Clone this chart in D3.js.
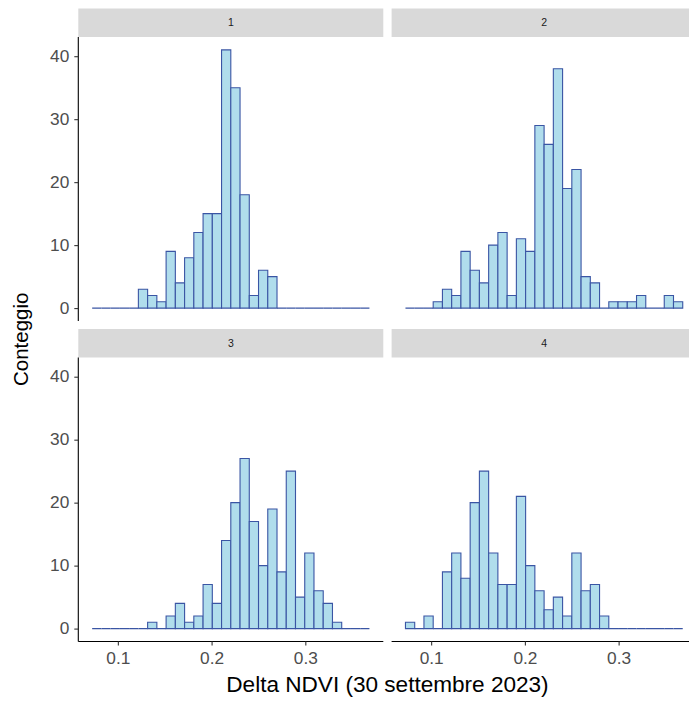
<!DOCTYPE html>
<html>
<head>
<meta charset="utf-8">
<script src="https://cdn.jsdelivr.net/npm/d3@7"></script>
<style>
  html, body { margin: 0; padding: 0; background: #fff; }
  svg { display: block; font-family: "Liberation Sans", Arial, sans-serif; }
</style>
</head>
<body>
<svg id="chart" width="689" height="702"></svg>
<script>
// Histogram of Delta NDVI per zone: 30 shared bins, counts per bin.
const panels = ["1", "2", "3", "4"];
const binStart = 0.0726;
const binWidth = 0.00986;
const binCount = 30;

const counts1 = [0,0,0,0,0,3,2,1,9,4,8,12,15,15,41,35,18,2,6,5,0,0,0,0,0,0,0,0,0,0];
const counts2 = [0,0,0,1,3,2,9,6,4,10,12,2,11,9,29,26,38,19,22,5,4,0,1,1,1,2,0,0,2,1];
const counts3 = [0,0,0,0,0,0,1,0,2,4,1,2,7,4,14,20,27,17,10,19,9,25,5,12,6,4,1,0,0,0];
const counts4 = [1,0,2,0,9,12,8,20,25,12,7,7,21,10,6,3,5,2,12,6,7,2,0,0,0,0,0,0,0,0];
const panelCounts = [counts1, counts2, counts3, counts4];

const xTicks = [0.1, 0.2, 0.3];
const yTicks = [0, 10, 20, 30, 40];
const xTitle = "Delta NDVI (30 settembre 2023)";
const yTitle = "Conteggio";

const svg = d3.select("#chart");

// facet geometry
const colX = [78.3, 391.6];
const panelW = 305;
const rowY = [37, 357.5];
const panelH = 284;
const stripH = 28.5;

const xMin = binStart, xMax = binStart + binWidth * binCount;
const xPad = (xMax - xMin) * 0.05;
const yMaxData = d3.max(panelCounts.flat());
const yPad = yMaxData * 0.05;

const x = d3.scaleLinear().domain([xMin - xPad, xMax + xPad]).range([0, panelW]);
const y = d3.scaleLinear().domain([-yPad, yMaxData + yPad]).range([panelH, 0]);

const fillCol = "#B0DDEC";
const strokeCol = "#3A55A4";
const sx = 1.08; // horizontal widening of tick labels

function styleTickText(sel) {
  sel.attr("font-size", 16).attr("fill", "#4D4D4D")
    .attr("font-family", "'Liberation Sans', Arial, sans-serif")
    .attr("x", function () { return (+this.getAttribute("x") || 0) / sx; })
    .attr("transform", `scale(${sx},1)`);
}

panels.forEach((label, i) => {
  const col = i % 2, row = Math.floor(i / 2);
  const g = svg.append("g").attr("transform", `translate(${colX[col]},${rowY[row]})`);

  // strip
  g.append("rect").attr("x", 0).attr("y", -stripH).attr("width", panelW).attr("height", stripH)
    .attr("fill", "#D9D9D9");
  g.append("text").attr("x", panelW / 2).attr("y", -stripH / 2).attr("dy", "0.35em")
    .attr("text-anchor", "middle").attr("font-size", 10.5).attr("fill", "#1A1A1A").text(label);

  // bars, zero bins collapse to a baseline segment
  const bins = panelCounts[i].map((c, k) => ({
    x0: binStart + k * binWidth, x1: binStart + (k + 1) * binWidth, n: c
  }));
  g.append("g").selectAll("path").data(bins).join("path")
    .attr("d", b => `M${x(b.x0)},${y(0)}V${y(b.n)}H${x(b.x1)}V${y(0)}Z`)
    .attr("fill", fillCol).attr("stroke", strokeCol).attr("stroke-width", 1.1)
    .attr("stroke-linejoin", "miter");

  // y axis on left column
  if (col === 0) {
    const ay = g.append("g").call(d3.axisLeft(y).tickValues(yTicks).tickSize(4).tickPadding(5));
    ay.select(".domain").attr("d", `M0,0V${panelH}`).attr("stroke", "#000").attr("stroke-width", 1.1);
    ay.selectAll(".tick line").attr("stroke", "#333").attr("stroke-width", 1.1);
    ay.selectAll(".tick text").call(styleTickText);
  }
  // x axis on bottom row
  if (row === 1) {
    const ax = g.append("g").attr("transform", `translate(0,${panelH})`)
      .call(d3.axisBottom(x).tickValues(xTicks).tickFormat(d3.format(".1f")).tickSize(4).tickPadding(7));
    ax.select(".domain").attr("d", `M0,0H${panelW}`).attr("stroke", "#000").attr("stroke-width", 1.1);
    ax.selectAll(".tick line").attr("stroke", "#333").attr("stroke-width", 1.1);
    ax.selectAll(".tick text").call(styleTickText);
  }
});

// axis titles
svg.append("text")
  .attr("transform", `translate(${(colX[0] + colX[1] + panelW) / 2},692) scale(1.05,1)`)
  .attr("text-anchor", "middle").attr("font-size", 21.5).attr("fill", "#000").text(xTitle);
svg.append("text").attr("transform", `translate(28,${(rowY[0] + rowY[1] + panelH) / 2}) rotate(-90)`)
  .attr("text-anchor", "middle").attr("font-size", 20.5).attr("fill", "#000").text(yTitle);
</script>
</body>
</html>
